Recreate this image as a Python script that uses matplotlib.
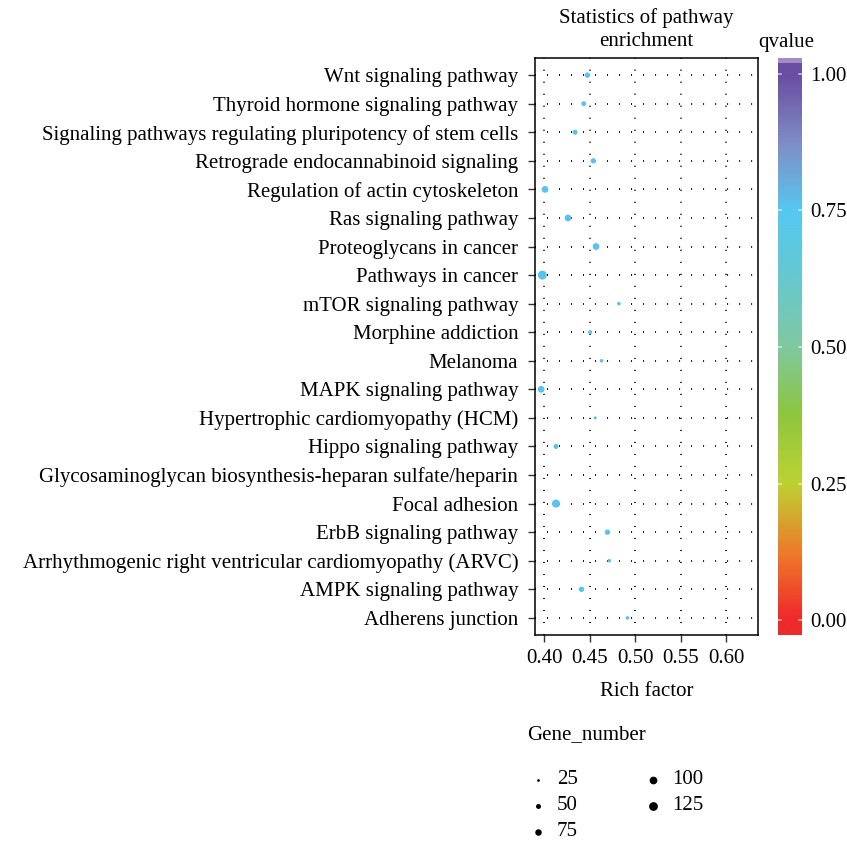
import numpy as np
import matplotlib
matplotlib.use("Agg")
import matplotlib.pyplot as plt
from matplotlib.colors import LinearSegmentedColormap

plt.rcParams['font.family'] = ['Liberation Serif', 'DejaVu Serif']

# pathway data (top to bottom as shown)
pathways = [
    "Wnt signaling pathway",
    "Thyroid hormone signaling pathway",
    "Signaling pathways regulating pluripotency of stem cells",
    "Retrograde endocannabinoid signaling",
    "Regulation of actin cytoskeleton",
    "Ras signaling pathway",
    "Proteoglycans in cancer",
    "Pathways in cancer",
    "mTOR signaling pathway",
    "Morphine addiction",
    "Melanoma",
    "MAPK signaling pathway",
    "Hypertrophic cardiomyopathy (HCM)",
    "Hippo signaling pathway",
    "Glycosaminoglycan biosynthesis-heparan sulfate/heparin",
    "Focal adhesion",
    "ErbB signaling pathway",
    "Arrhythmogenic right ventricular cardiomyopathy (ARVC)",
    "AMPK signaling pathway",
    "Adherens junction",
]
rich_factor = [0.4475, 0.4435, 0.434, 0.454, 0.401, 0.4263, 0.457, 0.398, 0.482, 0.4505,
               0.463, 0.3967, 0.456, 0.413, np.nan, 0.413, 0.4695, 0.4716, 0.441, 0.4914]
gene_number = [56, 50, 50, 56, 80, 80, 80, 130, 33, 38,
               33, 80, 28, 50, 0, 108, 56, 33, 56, 33]
qvalue = [0.76] * 20

legend_sizes = [25, 50, 75, 100, 125]
cbar_ticks = [0.00, 0.25, 0.50, 0.75, 1.00]
x_ticks = [0.40, 0.45, 0.50, 0.55, 0.60]

cmap = LinearSegmentedColormap.from_list("q", [
    (0.0, "#ee2a2a"), (0.12, "#ee7a2a"), (0.25, "#bcd332"), (0.38, "#8dc63f"),
    (0.5, "#80c8a0"), (0.63, "#66c8d0"), (0.75, "#55c8f2"), (0.87, "#7f90c8"),
    (1.0, "#6a4ea2")])

FS = 15


def size_px(g):
    # area grows linearly with gene number
    d2 = np.maximum(0.3825 * np.asarray(g, float) - 5.56, 0.5)
    return np.sqrt(d2)


def to_s(g):
    return (size_px(g) * 0.72 * 1.35) ** 2


fig = plt.figure(figsize=(8.47, 8.44), dpi=100)
W, H = 847, 844
ax = fig.add_axes([535 / W, 1 - 635 / H, (758 - 535) / W, (635 - 58) / H])

n = len(pathways)
ypos = np.arange(n, 0, -1)

ax.scatter(rich_factor, ypos, s=to_s(gene_number), c=qvalue, cmap=cmap,
           vmin=0, vmax=1, linewidths=0, zorder=3)

ax.set_xlim(0.390, 0.6347)
ax.set_ylim(0.4, n + 0.6)
ax.set_yticks(ypos)
ax.set_yticklabels(pathways, fontsize=FS)
ax.set_xticks(x_ticks)
ax.set_xticklabels([f"{t:.2f}" for t in x_ticks], fontsize=FS)
ax.tick_params(length=5, width=1, color="#333333")
ax.tick_params(axis="y", pad=7)
ax.tick_params(axis="x", pad=5)
ax.grid(True, color="black", linewidth=1.3, linestyle=(0, (0.55, 6.1)))
ax.set_axisbelow(True)
for sp in ax.spines.values():
    sp.set_linewidth(1.1)

ax.set_xlabel("Rich factor", fontsize=FS, labelpad=10)
fig.text(646 / W, 1 - 18 / H, "Statistics of pathway", ha="center", va="center", fontsize=FS)
fig.text(646 / W, 1 - 42 / H, "enrichment", ha="center", va="center", fontsize=FS)

# colour bar
cax = fig.add_axes([778 / W, 1 - 635 / H, 24 / W, (635 - 58) / H])
grad = np.linspace(-0.027, 1.029, 300).reshape(-1, 1)
cax.imshow(np.clip(grad, 0, 1), aspect="auto", cmap=cmap, vmin=0, vmax=1,
           origin="lower", extent=[0, 1, -0.027, 1.029])
cax.axhspan(1.02, 1.029, color="#a58bc8", lw=0)
cax.set_xlim(0, 1)
cax.set_ylim(-0.027, 1.029)
cax.set_xticks([])
cax.yaxis.tick_right()
cax.set_yticks(cbar_ticks)
cax.set_yticklabels([f"{t:.2f}" for t in cbar_ticks], fontsize=FS)
cax.tick_params(axis="y", length=0, pad=6)
for t in cbar_ticks:
    cax.plot([0, 0.12], [t, t], color="white", lw=1.2, alpha=0.6)
    cax.plot([0.88, 1], [t, t], color="white", lw=1.2, alpha=0.6)
for sp in cax.spines.values():
    sp.set_visible(False)
fig.text(758 / W, 1 - 42 / H, "qvalue", ha="left", va="center", fontsize=FS)

# size legend
fig.text(527 / W, 1 - 735 / H, "Gene_number", ha="left", va="center", fontsize=FS)
leg_pos = [(537.7, 780), (537.7, 806), (537.7, 832), (652.7, 780), (652.7, 806)]
for g, (lx, ly) in zip(legend_sizes, leg_pos):
    ax.scatter([lx / W], [1 - ly / H], s=to_s(g), color="black", linewidths=0,
               transform=fig.transFigure, clip_on=False)
    fig.text((lx + 19) / W, 1 - ly / H, str(g), ha="left", va="center", fontsize=FS)

fig.savefig("out.png", dpi=100)
